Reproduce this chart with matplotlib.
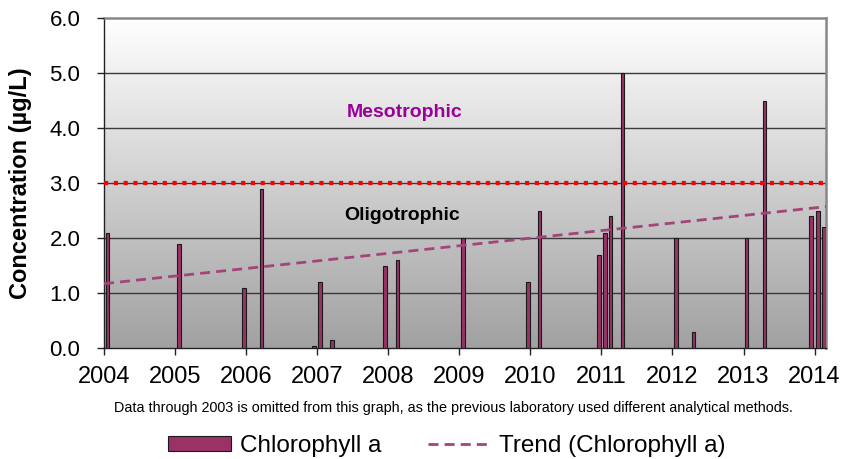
import matplotlib
matplotlib.use("Agg")
import matplotlib.pyplot as plt
import matplotlib.dates as mdates
import numpy as np
from datetime import datetime
from matplotlib.patches import Patch
from matplotlib.lines import Line2D
from matplotlib.colors import LinearSegmentedColormap

# ---- data ----
sample_dates = ["2004-01-20", "2005-01-20", "2005-12-20", "2006-03-20", "2006-12-15",
                "2007-01-15", "2007-03-17", "2007-12-15", "2008-02-18", "2009-01-20",
                "2009-12-20", "2010-02-18", "2010-12-20", "2011-01-20", "2011-02-18",
                "2011-04-20", "2012-01-20", "2012-04-20", "2013-01-15", "2013-04-20",
                "2013-12-15", "2014-01-20", "2014-02-18"]
chl_values = [2.1, 1.9, 1.1, 2.9, 0.04, 1.2, 0.15, 1.5, 1.6, 2.0,
              1.2, 2.5, 1.7, 2.1, 2.4, 5.0, 2.0, 0.3, 2.0, 4.5,
              2.4, 2.5, 2.2]
trend_dates = ["2004-01-01", "2014-03-01"]
trend_values = [1.17, 2.57]
threshold = 3.0
year_ticks = list(range(2004, 2015))
y_ticks = [0.0, 1.0, 2.0, 3.0, 4.0, 5.0, 6.0]

dates = [datetime.strptime(d, "%Y-%m-%d") for d in sample_dates]
tdates = [datetime.strptime(d, "%Y-%m-%d") for d in trend_dates]

plt.rcParams['font.family'] = ['Liberation Sans', 'DejaVu Sans']

fig = plt.figure(figsize=(8.54, 4.59), dpi=100)
ax = fig.add_axes([104/854, 1-348/459, (826-104)/854, (348-18)/459])

xmin = mdates.date2num(datetime(2004, 1, 1))
xmax = mdates.date2num(datetime(2014, 3, 1))

# gradient background (white at top, grey at bottom)
grad = np.linspace(0, 1, 256).reshape(-1, 1)
cmap = LinearSegmentedColormap.from_list("bg", ["#ffffff", "#a1a1a1"])
ax.imshow(grad, aspect='auto', cmap=cmap, extent=[xmin, xmax, 0.0, 6.0],
          origin='upper', zorder=0, interpolation='bicubic')

# gridlines
for yv in [1.0, 2.0, 3.0, 4.0, 5.0]:
    ax.axhline(yv, color='#3a3a3a', lw=1.0, zorder=1)

# bars
ax.bar(dates, chl_values, width=18, color='#993366', edgecolor='#1a1a1a',
       linewidth=0.8, zorder=3, align='center')

# threshold line
ax.plot([xmin, xmax], [threshold, threshold], color='#ff0000', lw=3.0,
        linestyle=(0, (1, 1.35)), dash_capstyle='butt', zorder=4)

# trend
ax.plot(tdates, trend_values, color='#a3457a', lw=2.0, linestyle=(0, (3.6, 2.2)),
        zorder=5)

ax.text(mdates.date2num(datetime(2008, 3, 28)), 4.29, "Mesotrophic", color='#990099',
        fontsize=14, fontweight='bold', ha='center', va='center', zorder=6)
ax.text(mdates.date2num(datetime(2008, 3, 15)), 2.4, "Oligotrophic", color='#000000',
        fontsize=14, fontweight='bold', ha='center', va='center', zorder=6)

ax.set_xlim(xmin, xmax)
ax.set_ylim(0, 6.0)
ax.set_xticks([mdates.date2num(datetime(y, 1, 1)) for y in year_ticks])
ax.set_xticklabels([str(y) for y in year_ticks])
ax.set_yticks(y_ticks)
ax.set_yticklabels([f"{v:.1f}" for v in y_ticks])
ax.tick_params(axis='x', labelsize=17, length=5, width=1, pad=8, color='#222222')
ax.tick_params(axis='y', labelsize=16, length=5, width=1, pad=12, color='#222222')

for s in ['left', 'bottom']:
    ax.spines[s].set_color('#222222')
    ax.spines[s].set_linewidth(1.0)
for s in ['top', 'right']:
    ax.spines[s].set_color('#888888')
    ax.spines[s].set_linewidth(1.8)
ax.set_axisbelow(False)

fig.text(21/854, 1-183/459, "Concentration (\u00b5g/L)", rotation=90, fontsize=17,
         fontweight='bold', ha='center', va='center')

fig.text(453/854, 1-408/459,
         "Data through 2003 is omitted from this graph, as the previous laboratory used different analytical methods.",
         fontsize=10.4, ha='center', va='center')

handles = [Patch(facecolor='#993366', edgecolor='#1a1a1a', linewidth=0.8),
           Line2D([0], [0], color='#a3457a', lw=2.0, linestyle=(0, (3.6, 2.2)))]
fig.legend(handles, ["Chlorophyll a", "Trend (Chlorophyll a)"], loc='center',
           bbox_to_anchor=(447/854, 1-446/459), ncol=2, frameon=False,
           fontsize=17.5, handlelength=2.6, handleheight=0.6, handletextpad=0.35,
           columnspacing=1.9)

fig.savefig("out.png", dpi=100)
